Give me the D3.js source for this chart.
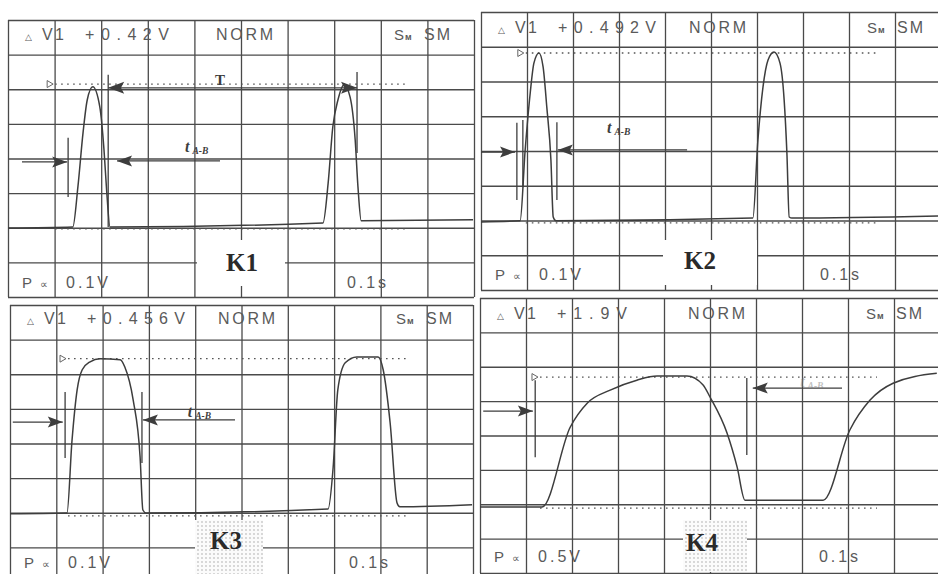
<!DOCTYPE html>
<html>
<head>
<meta charset="utf-8">
<script src="https://cdn.jsdelivr.net/npm/d3@7"></script>
<style>
  html, body { margin: 0; padding: 0; background: #fff; }
  svg { display: block; }
</style>
</head>
<body>
<svg id="chart" width="938" height="574"></svg>
<script>
// Oscilloscope traces, in graticule divisions: [time div (0..10), volt div (0..8)]
const k1Trace = [[0,1.99],[1.39,2.02],[1.50,3.18],[1.61,4.74],[1.70,5.69],[1.82,6.07],[1.97,5.49],[2.06,4.25],[2.12,3.01],[2.19,2.02],
  [6.76,2.14],[6.87,3.29],[6.97,4.91],[7.08,5.69],[7.21,6.13],[7.34,5.78],[7.45,4.54],[7.51,3.18],[7.58,2.20],[9.98,2.23]];
const k2Trace = [[0,1.96],[0.85,1.99],[0.96,4.03],[1.07,5.67],[1.15,6.53],[1.26,6.82],[1.35,6.42],[1.43,5.27],[1.52,3.74],[1.57,2.10],[1.63,1.99],
  [5.91,2.07],[6.02,4.32],[6.13,5.84],[6.24,6.62],[6.37,6.85],[6.50,6.53],[6.59,5.47],[6.65,3.94],[6.70,2.10],[6.76,2.07],[9.98,2.13]];
const k3Trace = [[0,1.97],[1.23,1.99],[1.34,4.10],[1.45,5.55],[1.56,6.13],[1.73,6.36],[1.94,6.45],[2.38,6.42],[2.48,6.21],[2.66,5.26],[2.81,3.61],[2.87,2.08],[2.94,1.99],
  [6.87,2.11],[6.98,3.32],[7.08,5.55],[7.24,6.33],[7.49,6.50],[7.95,6.50],[8.06,6.13],[8.21,4.60],[8.36,2.28],[8.42,2.17],[9.98,2.23]];
const k4Trace = [[0,1.92],[1.35,1.92],[1.96,4.24],[2.33,4.94],[2.83,5.32],[3.41,5.61],[3.85,5.73],[4.50,5.73],[4.85,5.47],[5.00,5.12],[5.37,4.07],[5.59,3.08],[5.76,2.12],
  [7.46,2.12],[8.04,4.16],[8.48,5.03],[8.98,5.52],[9.93,5.81]];

// Screen readouts
const panelNames  = ["K1", "K2", "K3", "K4"];
const deltaV      = ["+0.42V", "+0.492V", "+0.456V", "+1.9V"];
const voltsPerDiv = ["0.1V", "0.1V", "0.1V", "0.5V"];
const timePerDiv  = ["0.1s", "0.1s", "0.1s", "0.1s"];
const modeLabel   = "NORM";

// Dotted level cursors [upper, lower] and their time extent [from, to], in divisions
const refLevels = [[6.15,1.97],[6.82,1.93],[6.45,1.91],[5.70,1.89]];
const refExtent = [[0.84,8.56],[0.80,8.61],[1.08,8.57],[1.13,8.63]];

// Vertical time cursors [t, vTop, vBottom]
const cursorsK1 = [[1.29,4.60,2.89],[2.15,6.42,2.02],[7.49,6.50,4.16]];
const cursorsK2 = [[0.78,4.81,2.59],[0.91,4.89,2.96],[1.65,4.83,2.59]];
const cursorsK3 = [[1.19,5.49,3.58],[2.85,5.49,3.44]];
const cursorsK4 = [[1.20,5.61,3.37],[5.80,5.67,3.43]];

// t(A-B) arrows: [leftStart, leftTip, leftV, rightTip, rightEnd, rightV, labelT, labelV]
const tabK1 = [0.30,1.27,3.90, 2.34,4.55,3.93, 3.80,4.19];
const tabK2 = [0.00,0.74,3.97, 1.67,4.48,4.03, 2.74,4.52];
const tabK3 = [0.06,1.14,4.62, 2.87,4.86,4.68, 3.84,4.77];
const tabK4 = [0.07,1.15,4.71, 5.93,7.87,5.38, 6.96,5.41];

// Period T of K1: [from, to, v, labelT, labelV]
const periodK1 = [2.15, 7.49, 6.04, 4.55, 6.13];

const traces  = [k1Trace, k2Trace, k3Trace, k4Trace];
const cursors = [cursorsK1, cursorsK2, cursorsK3, cursorsK4];
const tabs    = [tabK1, tabK2, tabK3, tabK4];

// Screen placement of each scope capture
const layout = [
  { x0: 8,   y0: 20,  w: 466, h: 277, top: 40,  bot: 288, box: [197,240,88,46], halftone: false, k: [242,271] },
  { x0: 481, y0: 12,  w: 460, h: 278, top: 33,  bot: 280, box: [663,240,94,45], halftone: false, k: [700,269] },
  { x0: 10,  y0: 305, w: 463, h: 277, top: 324, bot: 568, box: [195,520,68,54], halftone: true,  k: [226,549] },
  { x0: 480, y0: 298, w: 460, h: 275, top: 319, bot: 562, box: [683,520,64,52], halftone: true,  k: [702,551] }
];

const ink = "#3d3d3d";
const gridInk = "#4a4a4a";
const textInk = "#5a5a5a";
const scopeFont = "'Liberation Sans', Arial, sans-serif";
const serifFont = "'Liberation Serif', 'DejaVu Serif', serif";

const svg = d3.select("#chart");
svg.append("rect").attr("width", 938).attr("height", 574).attr("fill", "#fff");

const defs = svg.append("defs");
const pat = defs.append("pattern").attr("id", "halftone")
  .attr("width", 4).attr("height", 4).attr("patternUnits", "userSpaceOnUse");
pat.append("rect").attr("width", 4).attr("height", 4).attr("fill", "#fbfbfb");
pat.append("circle").attr("cx", 2).attr("cy", 2).attr("r", 0.9).attr("fill", "#c8c8c8");

function arrowHead(g, tx, ty, dir, len, half, fill) {
  g.append("path")
    .attr("d", `M${tx},${ty} L${tx - dir * len},${ty - half} L${tx - dir * len * 0.8},${ty} L${tx - dir * len},${ty + half} Z`)
    .attr("fill", fill || ink);
}

layout.forEach((L, i) => {
  const x = d3.scaleLinear().domain([0, 10]).range([L.x0, L.x0 + L.w]);
  const y = d3.scaleLinear().domain([0, 8]).range([L.y0 + L.h, L.y0]);
  const g = svg.append("g");

  // graticule: 10 x 8 divisions
  const gx = g.append("g").attr("transform", `translate(0,${L.y0})`)
    .call(d3.axisBottom(x).tickValues(d3.range(0, 11)).tickSize(L.h).tickFormat(""));
  const gy = g.append("g").attr("transform", `translate(${L.x0},0)`)
    .call(d3.axisRight(y).tickValues(d3.range(0, 9)).tickSize(L.w).tickFormat(""));
  [gx, gy].forEach(a => {
    a.select(".domain").remove();
    a.selectAll("line").attr("stroke", gridInk).attr("stroke-width", 1.3);
  });

  // pasted caption box
  g.append("rect").attr("x", L.box[0]).attr("y", L.box[1]).attr("width", L.box[2]).attr("height", L.box[3])
    .attr("fill", L.halftone ? "url(#halftone)" : "#fff");

  // dotted level cursors
  const [ua, la] = refLevels[i];
  const [ex0, ex1] = refExtent[i];
  [ua, la].forEach(v => {
    g.append("line").attr("x1", x(ex0) + 8).attr("x2", x(ex1)).attr("y1", y(v)).attr("y2", y(v))
      .attr("stroke", "#555").attr("stroke-width", 1.3).attr("stroke-dasharray", "1.6,4.4");
  });
  g.append("path")
    .attr("d", `M${x(ex0)},${y(ua) - 3.5} L${x(ex0) + 6},${y(ua)} L${x(ex0)},${y(ua) + 3.5} Z`)
    .attr("fill", "none").attr("stroke", "#666").attr("stroke-width", 1);

  // trace
  const line = d3.line().x(d => x(d[0])).y(d => y(d[1])).curve(d3.curveMonotoneX);
  g.append("path").datum(traces[i]).attr("d", line)
    .attr("fill", "none").attr("stroke", ink).attr("stroke-width", 1.5).attr("stroke-linejoin", "round");

  // time cursors
  cursors[i].forEach(c => {
    g.append("line").attr("x1", x(c[0])).attr("x2", x(c[0])).attr("y1", y(c[1])).attr("y2", y(c[2]))
      .attr("stroke", ink).attr("stroke-width", 1.3);
  });

  // t(A-B) measurement arrows
  const t = tabs[i];
  const faint = i === 3 ? "#777" : ink;
  g.append("line").attr("x1", x(t[0])).attr("x2", x(t[1])).attr("y1", y(t[2])).attr("y2", y(t[2]))
    .attr("stroke", ink).attr("stroke-width", 1.3);
  arrowHead(g, x(t[1]), y(t[2]), 1, 15, 5.5);
  g.append("line").attr("x1", x(t[3])).attr("x2", x(t[4])).attr("y1", y(t[5])).attr("y2", y(t[5]))
    .attr("stroke", ink).attr("stroke-width", 1.3);
  arrowHead(g, x(t[3]), y(t[5]), -1, 15, 5.5);
  const lab = g.append("text").attr("x", x(t[6])).attr("y", y(t[7]))
    .attr("font-family", serifFont).attr("font-style", "italic").attr("font-weight", "bold")
    .attr("fill", faint).attr("opacity", i === 3 ? 0.45 : 1);
  lab.append("tspan").attr("font-size", 16).text("t");
  lab.append("tspan").attr("font-size", 9.5).attr("dx", 3).attr("dy", 2).text("A-B");

  // readouts
  const txt = (s, px, py, size, len) => {
    const e = g.append("text").attr("x", px).attr("y", py)
      .attr("font-family", scopeFont).attr("font-size", size).attr("fill", textInk).text(s);
    if (len) e.attr("textLength", len).attr("lengthAdjust", "spacing");
    return e;
  };
  txt("\u25B3", L.x0 + 17, L.top, 9);
  txt("V1", L.x0 + 34, L.top, 16, 22);
  txt(deltaV[i], L.x0 + 77, L.top, 16, deltaV[i].length * 14);
  txt(modeLabel, L.x0 + 208, L.top, 16, 57);
  const s = txt("S", L.x0 + 386, L.top, 15);
  s.append("tspan").attr("font-size", 9).attr("font-weight", "bold").attr("dx", 1).text("\u043C");
  txt("SM", L.x0 + 416, L.top, 16, 26);
  txt("P", L.x0 + 14, L.bot, 15);
  txt("\u221D", L.x0 + 32, L.bot, 11);
  txt(voltsPerDiv[i], L.x0 + 58, L.bot, 16, 42);
  txt(timePerDiv[i], L.x0 + 339, L.bot, 16, 39);

  // capture name
  g.append("text").attr("x", L.k[0]).attr("y", L.k[1]).attr("text-anchor", "middle")
    .attr("font-family", serifFont).attr("font-weight", "bold").attr("font-size", 25)
    .attr("fill", "#2a2a2a").text(panelNames[i]);

  // period T (first capture only)
  if (i === 0) {
    const p = periodK1;
    g.append("line").attr("x1", x(p[0])).attr("x2", x(p[1])).attr("y1", y(p[2])).attr("y2", y(p[2]))
      .attr("stroke", ink).attr("stroke-width", 1.4);
    arrowHead(g, x(p[0]), y(p[2]), -1, 16, 6);
    arrowHead(g, x(p[1]), y(p[2]), 1, 16, 6);
    g.append("text").attr("x", x(p[3])).attr("y", y(p[4])).attr("text-anchor", "middle")
      .attr("font-family", serifFont).attr("font-weight", "bold").attr("font-size", 15)
      .attr("fill", ink).text("T");
  }
});
</script>
</body>
</html>
